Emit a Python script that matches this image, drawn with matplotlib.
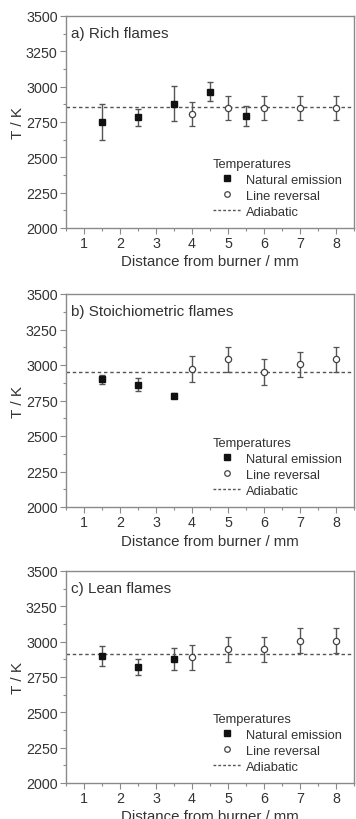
import matplotlib
matplotlib.use("Agg")
import matplotlib.pyplot as plt
from matplotlib.ticker import MultipleLocator
from matplotlib.lines import Line2D

plt.rcParams['font.family'] = ['Liberation Sans', 'DejaVu Sans']

titles = ["a) Rich flames", "b) Stoichiometric flames", "c) Lean flames"]

ne_x = [[1.5, 2.5, 3.5, 4.5, 5.5], [1.5, 2.5, 3.5], [1.5, 2.5, 3.5]]
ne_y = [[2750, 2785, 2880, 2965, 2795], [2898, 2862, 2785], [2900, 2820, 2875]]
ne_err = [[130, 60, 125, 65, 70], [35, 47, 20], [70, 58, 77]]

lr_x = [[4, 5, 6, 7, 8], [4, 5, 6, 7, 8], [4, 5, 6, 7, 8]]
lr_y = [[2805, 2848, 2848, 2848, 2848], [2970, 3040, 2949, 3005, 3040], [2889, 2945, 2945, 3006, 3006]]
lr_err = [[83, 83, 83, 83, 83], [91, 90, 90, 90, 90], [86, 88, 88, 89, 89]]

adiabatic = [2858, 2949, 2910]

xticks = [1, 2, 3, 4, 5, 6, 7, 8]
yticks = [2000, 2250, 2500, 2750, 3000, 3250, 3500]

fig = plt.figure(figsize=(3.56, 8.2), dpi=100)
rects = [(66, 17, 229), (66, 295, 508), (66, 572, 784)]
W, H = 356, 820
spine_c = '#8a8a8a'
text_c = '#333333'
err_c = '#555555'

for i in range(3):
    l, t, b = rects[i]
    ax = fig.add_axes([l / W, 1 - b / H, 288 / W, (b - t) / H])
    ax.errorbar(ne_x[i], ne_y[i], yerr=ne_err[i], fmt='s', ms=4.5, mfc='#111111', mec='#111111',
                ecolor=err_c, elinewidth=1.0, capsize=2.5, capthick=1.0, zorder=3)
    ax.errorbar(lr_x[i], lr_y[i], yerr=lr_err[i], fmt='o', ms=4.5, mfc='white', mec='#444444', mew=0.9,
                ecolor=err_c, elinewidth=1.0, capsize=2.5, capthick=1.0, zorder=3)
    ax.axhline(adiabatic[i], color='#555555', ls=(0, (2.5, 2)), lw=1.0, zorder=2)
    ax.set_xlim(0.5, 8.5)
    ax.set_ylim(2000, 3500)
    ax.set_xticks(xticks)
    ax.set_yticks(yticks)
    ax.xaxis.set_minor_locator(MultipleLocator(0.5))
    ax.yaxis.set_minor_locator(MultipleLocator(125))
    ax.tick_params(which='major', direction='out', length=4, width=0.8, color=spine_c,
                   labelsize=10.3, labelcolor=text_c, pad=2)
    ax.tick_params(which='minor', direction='out', length=2, width=0.8, color=spine_c)
    for s in ax.spines.values():
        s.set_color(spine_c)
        s.set_linewidth(1.0)
    ax.set_xlabel("Distance from burner / mm", fontsize=10.8, color=text_c, labelpad=3)
    ax.set_ylabel("T / K", fontsize=11, color=text_c, labelpad=1)
    ax.text(0.018, 0.955, titles[i], transform=ax.transAxes, fontsize=11, color=text_c,
            va='top', ha='left')
    handles = [
        Line2D([], [], marker='s', ls='none', ms=4, mfc='#111111', mec='#111111'),
        Line2D([], [], marker='o', ls='none', ms=4, mfc='white', mec='#444444', mew=0.9),
        Line2D([], [], color='#555555', ls=(0, (2, 1.5)), lw=1.0),
    ]
    leg = ax.legend(handles, ["Natural emission", "Line reversal", "Adiabatic"], title="Temperatures",
                    loc='lower right', bbox_to_anchor=(0.995, 0.0), frameon=False, fontsize=9.3,
                    title_fontsize=9.3, handlelength=2.2, handletextpad=0.4, labelspacing=0.3,
                    borderpad=0.3)
    leg._legend_box.align = 'left'
    for txt in leg.get_texts():
        txt.set_color(text_c)
    leg.get_title().set_color(text_c)

fig.savefig("out.png", dpi=100)
